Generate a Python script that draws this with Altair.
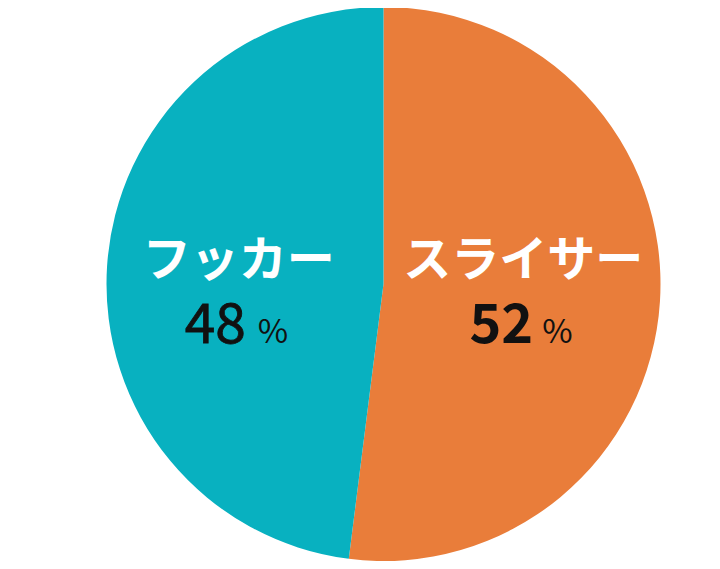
import altair as alt
import pandas as pd

# slices, clockwise from 12 o'clock
names = ["スライサー", "フッカー"]
shares = [52, 48]
colors = ["#E97D3A", "#08B1C0"]

df = pd.DataFrame({"name": names, "share": shares, "order": [0, 1]})
df["num"] = df["share"].astype(str)

FONT = "Noto Sans CJK JP"
R = 277

base = alt.Chart(df)

pie = base.mark_arc(radius=R, stroke=None).encode(
    theta=alt.Theta("share:Q", stack=True, scale=alt.Scale(domain=[0, 100])),
    color=alt.Color("name:N", scale=alt.Scale(domain=names, range=colors), legend=None),
    order=alt.Order("order:Q"),
    x=alt.value(375.5),
    y=alt.value(276),
)


def label(name, field, dx, dy, size, color, align, baseline, weight, thick=0):
    # text anchored at the slice's mid angle, nudged by dx/dy
    opts = dict(radius=140, dx=dx, dy=dy, fontSize=size, font=FONT,
                color=color, align=align, baseline=baseline, fontWeight=weight)
    if thick:
        opts.update(stroke=color, strokeWidth=thick)
    return (
        base.transform_stack(stack="share", groupby=[], as_=["s0", "s1"],
                             sort=[alt.SortField("order")])
        .transform_calculate(mid="(datum.s0 + datum.s1) / 2")
        .transform_filter(alt.datum.name == name)
        .mark_text(**opts)
        .encode(
            theta=alt.Theta("mid:Q", stack=None, scale=alt.Scale(domain=[0, 100])),
            text=field,
            x=alt.value(375.5),
            y=alt.value(276),
        )
    )


layers = [pie]
# スライサー (right)
layers += [
    label("スライサー", "name:N", 0, -31, 48, "white", "center", "middle", "bold"),
    label("スライサー", "num:N", 10, 50, 54, "#111111", "right", "alphabetic", "bold"),
    label("スライサー", alt.value("%"), 19, 50, 33, "#111111", "left", "alphabetic", "normal"),
]
# フッカー (left)
layers += [
    label("フッカー", "name:N", -5, -13, 48, "white", "center", "middle", "bold"),
    label("フッカー", "num:N", 2, 68, 55, "#111111", "right", "alphabetic", "normal", 0.8),
    label("フッカー", alt.value("%"), 14, 68, 33, "#111111", "left", "alphabetic", "normal"),
]

chart = (
    alt.layer(*layers)
    .properties(width=704, height=553, autosize=alt.AutoSizeParams(type="none"), padding=0)
    .configure_view(stroke=None)
)

chart.save("out.html", embed_options={"renderer": "svg", "actions": False})
